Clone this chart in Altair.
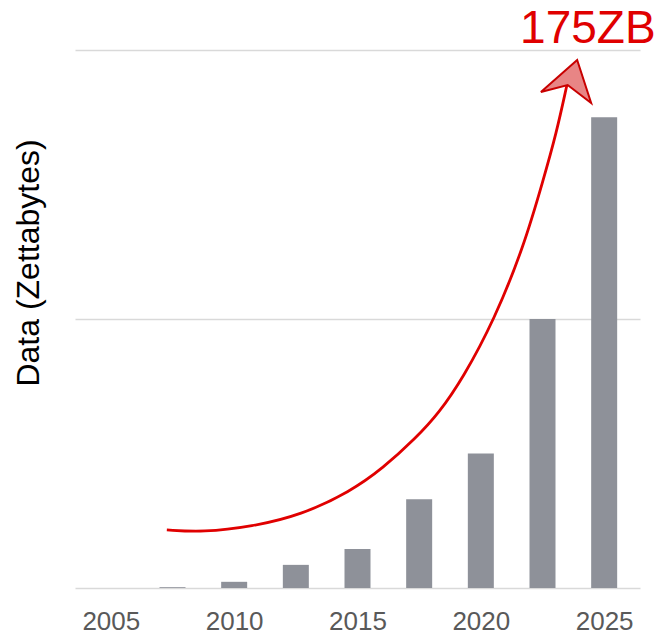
import altair as alt
import pandas as pd

# Global datasphere size per period (zettabytes)
years = [2005, 2007.5, 2010, 2012.5, 2015, 2017.5, 2020, 2022.5, 2025]
zettabytes = [0, 0.3, 2.3, 8.6, 14.5, 33, 50, 100, 175]

# Growth arrow path (year, zettabytes)
curve_x = [2007.27, 2008.73, 2010.72, 2012.71, 2014.70, 2016.03, 2017.36,
           2018.29, 2019.28, 2020.54, 2021.74, 2022.53, 2023.06, 2023.49]
curve_y = [21.6, 20.7, 22.8, 27.1, 35.8, 44.5, 55.7,
           64.9, 78.1, 99.6, 126.9, 151.7, 169.0, 187.0]

# Arrowhead anchor and headline annotation
head_x, head_y = 2023.52, 187.0
label_text = "175ZB"
label_x, label_y = 2024.34, 202.5

x_ticks = [2005, 2010, 2015, 2020, 2025]
y_grid = [0, 100, 200]

bars_df = pd.DataFrame({"year": years, "zb": zettabytes})
curve_df = pd.DataFrame({"year": curve_x, "zb": curve_y, "order": list(range(len(curve_x)))})
head_df = pd.DataFrame({"year": [head_x], "zb": [head_y]})
label_df = pd.DataFrame({"year": [label_x], "zb": [label_y], "text": [label_text]})

x_scale = alt.Scale(domain=[2003.75, 2026.25], nice=False, zero=False)
y_scale = alt.Scale(domain=[0, 200], nice=False)

x_axis = alt.Axis(
    values=x_ticks, format="d", grid=False, domain=False, ticks=False, tickSize=0,
    labelFont="Liberation Sans", labelFontSize=26, labelColor="#595959",
    labelBaseline="alphabetic", labelPadding=41, title=None,
)
y_axis = alt.Axis(
    values=y_grid, grid=True, gridColor="#d9d9d9", gridWidth=1.5,
    labels=False, ticks=False, tickSize=0, domain=False,
    title="Data (Zettabytes)", titleFont="Liberation Sans", titleFontSize=32,
    titleFontWeight="normal", titleColor="#000000", titleAngle=270,
    titleAlign="center", titleBaseline="middle", titleX=-46.5, titleY=212.5,
)

bars = alt.Chart(bars_df).mark_bar(size=26, color="#8e9199").encode(
    x=alt.X("year:Q", scale=x_scale, axis=x_axis),
    y=alt.Y("zb:Q", scale=y_scale, axis=y_axis),
)

curve = alt.Chart(curve_df).mark_line(
    color="#e00000", strokeWidth=2.8, interpolate="basis"
).encode(
    x=alt.X("year:Q", scale=x_scale),
    y=alt.Y("zb:Q", scale=y_scale),
    order="order:Q",
)

arrow_shape = "M0.38,-1.0 L0.94,0.72 L0,0 L-1.07,0.28 Z"
head = alt.Chart(head_df).mark_point(
    shape=arrow_shape, size=2500, filled=True, fill="#e88585", fillOpacity=1,
    stroke="#c80000", strokeWidth=2, opacity=1,
).encode(
    x=alt.X("year:Q", scale=x_scale),
    y=alt.Y("zb:Q", scale=y_scale),
)

label = alt.Chart(label_df).mark_text(
    font="Liberation Sans", fontSize=46, color="#e00000",
    align="center", baseline="alphabetic",
).encode(
    x=alt.X("year:Q", scale=x_scale),
    y=alt.Y("zb:Q", scale=y_scale),
    text="text:N",
)

chart = alt.layer(bars, curve, head, label).properties(
    width=565, height=538,
    autosize=alt.AutoSizeParams(type="none"),
    padding={"left": 75, "top": 50, "right": 21, "bottom": 49},
    background="white",
).configure_view(stroke=None)

chart.save("out.html", embed_options={"renderer": "svg", "actions": False})
